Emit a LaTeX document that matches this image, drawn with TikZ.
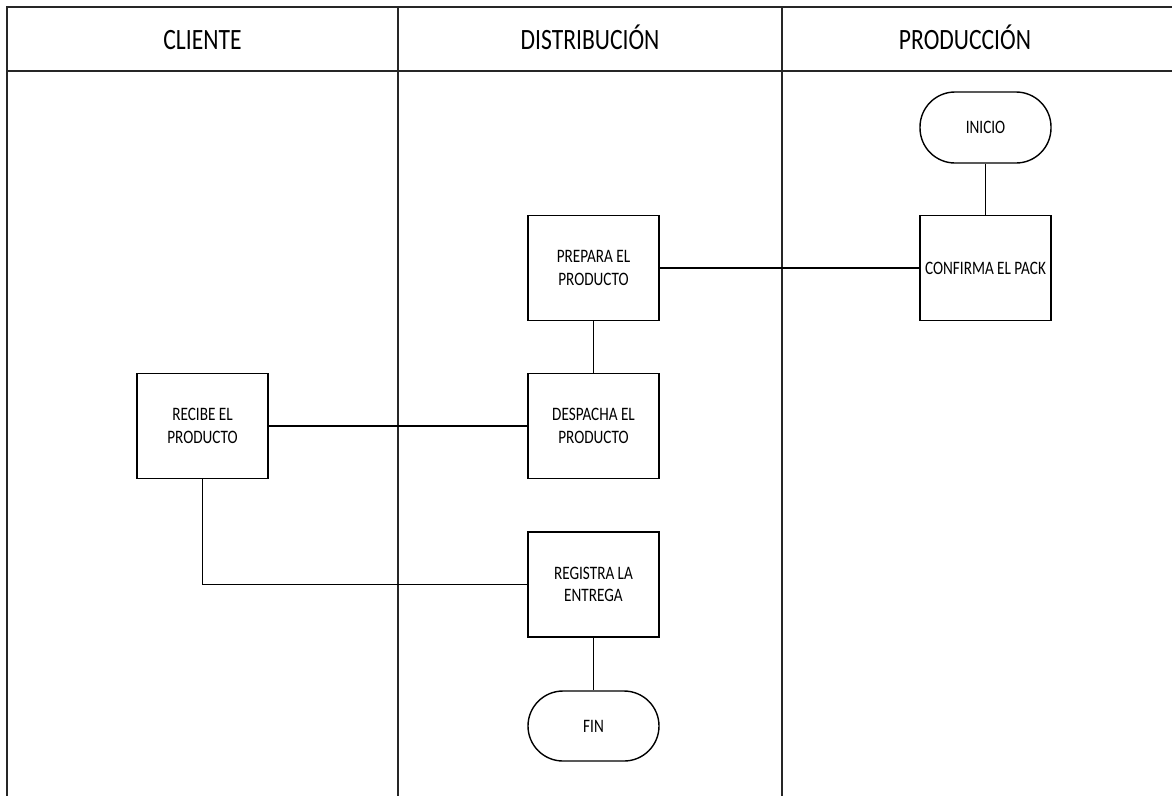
\documentclass[tikz,border=0pt]{standalone}
\usepackage{fontspec}
\setmainfont{Carlito}[FakeStretch=0.8]
\begin{document}
\begin{tikzpicture}[x=1pt,y=-1pt,
  lane/.style={line width=1.8pt,draw=black!85},
  lanetitle/.style={anchor=base,font=\fontsize{29.5}{35}\selectfont},
  proc/.style={draw,line width=1.4pt,minimum width=131pt,minimum height=105pt,
    inner sep=2pt,align=center,font=\fontsize{19}{22.5}\selectfont},
  term/.style={draw,line width=1.4pt,minimum width=131pt,minimum height=71pt,
    rounded corners=35pt,inner sep=2pt,align=center,font=\fontsize{19}{22.5}\selectfont},
  link/.style={line width=1.4pt}]
\useasboundingbox (0,0) rectangle (1172,796);
\fill[white] (0,0) rectangle (1172,796);

% swimlane frame
\draw[lane] (1172,7) -- (7,7) -- (7,796);
\draw[lane] (7,71) -- (1172,71);
\draw[lane] (398,7) -- (398,796);
\draw[lane] (782,7) -- (782,796);

% lane titles
\node[lanetitle] (tcli) at (202.5,49) {CLIENTE};
\node[lanetitle] (tdis) at (590,49) {DISTRIBUCIÓN};
\node[lanetitle] (tpro) at (965,49) {PRODUCCIÓN};

% steps
\node[term] (inicio) at (985.5,127.5) {INICIO};
\node[proc] (confirma) at (985.5,268) {CONFIRMA EL PACK};
\node[proc] (prepara) at (593.5,268) {PREPARA EL\\PRODUCTO};
\node[proc] (despacha) at (593.5,426) {DESPACHA EL\\PRODUCTO};
\node[proc] (recibe) at (202.5,426) {RECIBE EL\\PRODUCTO};
\node[proc] (registra) at (593.5,584.5) {REGISTRA LA\\ENTREGA};
\node[term,minimum height=70pt] (fin) at (593.5,726) {FIN};

% connectors
\draw[link] (inicio) -- (confirma);
\draw[link] (confirma) -- (prepara);
\draw[link] (prepara) -- (despacha);
\draw[link] (despacha) -- (recibe);
\draw[link] (recibe.south) |- (registra.west);
\draw[link] (registra) -- (fin);
\end{tikzpicture}
\end{document}
